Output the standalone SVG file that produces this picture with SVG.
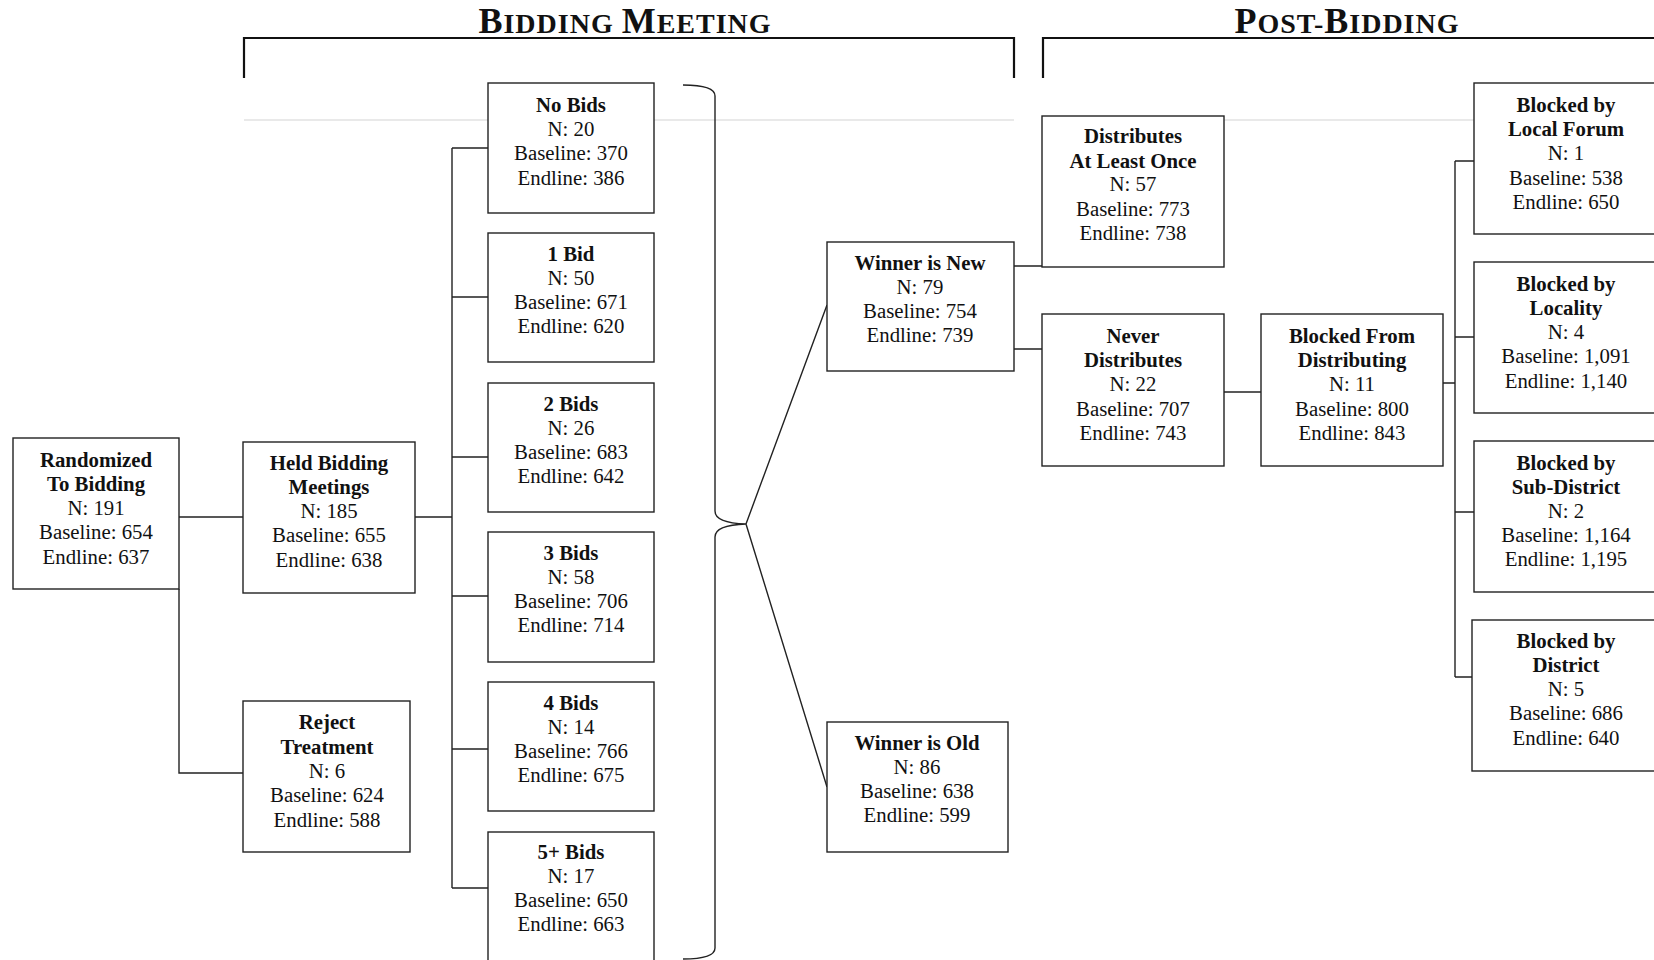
<svg xmlns="http://www.w3.org/2000/svg" width="1654" height="960" viewBox="0 0 1654 960">
<style>
.bg{fill:#fff}
.box{fill:#fff;stroke:#222;stroke-width:1.4}
.ln{fill:none;stroke:#222;stroke-width:1.4}
.br{fill:none;stroke:#111;stroke-width:2.2}
.gr{fill:none;stroke:#d4d4d4;stroke-width:1.2}
text{font-family:"Liberation Serif","Times New Roman",serif;fill:#111}
.t{font-size:20.8px;text-anchor:middle}
.b{font-weight:bold}
.h{font-weight:bold;text-anchor:middle;letter-spacing:1px}
.cap{font-size:36px}
.sc{font-size:28px}
</style>
<rect class="bg" x="0" y="0" width="1654" height="960"/>
<g id="headers">
<path class="br" d="M244,78 V38 H1014 V78"/>
<path class="br" d="M1043,78 V38 H1660"/>
<text class="h" x="625" y="33"><tspan class="cap">B</tspan><tspan class="sc">IDDING </tspan><tspan class="cap">M</tspan><tspan class="sc">EETING</tspan></text>
<text class="h" x="1347" y="33"><tspan class="cap">P</tspan><tspan class="sc">OST-</tspan><tspan class="cap">B</tspan><tspan class="sc">IDDING</tspan></text>
<path class="gr" d="M244,120 H1014 M1042,120 H1474"/>
</g>
<g id="connectors">
<path class="ln" d="M179,517 H243 M179,589 V773 H243"/>
<path class="ln" d="M415,517 H452 M452,148 V888 M452,148 H488 M452,297 H488 M452,457 H488 M452,596 H488 M452,749 H488 M452,888 H488"/>
<path class="ln" d="M683,85 Q715,85 715,96 L715,511 Q715,523 746,524 Q715,525 715,537 L715,948 Q715,959 683,959"/>
<path class="ln" d="M746,524 L827,305 M746,524 L827,787"/>
<path class="ln" d="M1014,266 H1042 M1014,349 H1042"/>
<path class="ln" d="M1224,392 H1261"/>
<path class="ln" d="M1443,383 H1455 M1455,161 V677 M1455,161 H1474 M1455,337 H1474 M1455,512 H1474 M1455,677 H1474"/>
</g>
<g id="randomized">
<rect class="box" x="13" y="438" width="166" height="151"/>
<text class="t b" x="96" y="467">Randomized</text>
<text class="t b" x="96" y="491">To Bidding</text>
<text class="t" x="96" y="515">N: 191</text>
<text class="t" x="96" y="539">Baseline: 654</text>
<text class="t" x="96" y="564">Endline: 637</text>
</g>
<g id="held">
<rect class="box" x="243" y="442" width="172" height="151"/>
<text class="t b" x="329" y="470">Held Bidding</text>
<text class="t b" x="329" y="494">Meetings</text>
<text class="t" x="329" y="518">N: 185</text>
<text class="t" x="329" y="542">Baseline: 655</text>
<text class="t" x="329" y="567">Endline: 638</text>
</g>
<g id="reject">
<rect class="box" x="243" y="701" width="167" height="151"/>
<text class="t b" x="327" y="729">Reject</text>
<text class="t b" x="327" y="754">Treatment</text>
<text class="t" x="327" y="778">N: 6</text>
<text class="t" x="327" y="802">Baseline: 624</text>
<text class="t" x="327" y="827">Endline: 588</text>
</g>
<g id="nobids">
<rect class="box" x="488" y="83" width="166" height="130"/>
<text class="t b" x="571" y="112">No Bids</text>
<text class="t" x="571" y="136">N: 20</text>
<text class="t" x="571" y="160">Baseline: 370</text>
<text class="t" x="571" y="185">Endline: 386</text>
</g>
<g id="bid1">
<rect class="box" x="488" y="233" width="166" height="129"/>
<text class="t b" x="571" y="261">1 Bid</text>
<text class="t" x="571" y="285">N: 50</text>
<text class="t" x="571" y="309">Baseline: 671</text>
<text class="t" x="571" y="333">Endline: 620</text>
</g>
<g id="bid2">
<rect class="box" x="488" y="383" width="166" height="129"/>
<text class="t b" x="571" y="411">2 Bids</text>
<text class="t" x="571" y="435">N: 26</text>
<text class="t" x="571" y="459">Baseline: 683</text>
<text class="t" x="571" y="483">Endline: 642</text>
</g>
<g id="bid3">
<rect class="box" x="488" y="532" width="166" height="130"/>
<text class="t b" x="571" y="560">3 Bids</text>
<text class="t" x="571" y="584">N: 58</text>
<text class="t" x="571" y="608">Baseline: 706</text>
<text class="t" x="571" y="632">Endline: 714</text>
</g>
<g id="bid4">
<rect class="box" x="488" y="682" width="166" height="129"/>
<text class="t b" x="571" y="710">4 Bids</text>
<text class="t" x="571" y="734">N: 14</text>
<text class="t" x="571" y="758">Baseline: 766</text>
<text class="t" x="571" y="782">Endline: 675</text>
</g>
<g id="bid5">
<rect class="box" x="488" y="832" width="166" height="140"/>
<text class="t b" x="571" y="859">5+ Bids</text>
<text class="t" x="571" y="883">N: 17</text>
<text class="t" x="571" y="907">Baseline: 650</text>
<text class="t" x="571" y="931">Endline: 663</text>
</g>
<g id="winnernew">
<rect class="box" x="827" y="242" width="187" height="129"/>
<text class="t b" x="920" y="270">Winner is New</text>
<text class="t" x="920" y="294">N: 79</text>
<text class="t" x="920" y="318">Baseline: 754</text>
<text class="t" x="920" y="342">Endline: 739</text>
</g>
<g id="winnerold">
<rect class="box" x="827" y="722" width="181" height="130"/>
<text class="t b" x="917" y="750">Winner is Old</text>
<text class="t" x="917" y="774">N: 86</text>
<text class="t" x="917" y="798">Baseline: 638</text>
<text class="t" x="917" y="822">Endline: 599</text>
</g>
<g id="distributes">
<rect class="box" x="1042" y="116" width="182" height="151"/>
<text class="t b" x="1133" y="143">Distributes</text>
<text class="t b" x="1133" y="168">At Least Once</text>
<text class="t" x="1133" y="191">N: 57</text>
<text class="t" x="1133" y="216">Baseline: 773</text>
<text class="t" x="1133" y="240">Endline: 738</text>
</g>
<g id="never">
<rect class="box" x="1042" y="314" width="182" height="152"/>
<text class="t b" x="1133" y="343">Never</text>
<text class="t b" x="1133" y="367">Distributes</text>
<text class="t" x="1133" y="391">N: 22</text>
<text class="t" x="1133" y="416">Baseline: 707</text>
<text class="t" x="1133" y="440">Endline: 743</text>
</g>
<g id="blockedfrom">
<rect class="box" x="1261" y="314" width="182" height="152"/>
<text class="t b" x="1352" y="343">Blocked From</text>
<text class="t b" x="1352" y="367">Distributing</text>
<text class="t" x="1352" y="391">N: 11</text>
<text class="t" x="1352" y="416">Baseline: 800</text>
<text class="t" x="1352" y="440">Endline: 843</text>
</g>
<g id="localforum">
<rect class="box" x="1474" y="83" width="190" height="151"/>
<text class="t b" x="1566" y="112">Blocked by</text>
<text class="t b" x="1566" y="136">Local Forum</text>
<text class="t" x="1566" y="160">N: 1</text>
<text class="t" x="1566" y="185">Baseline: 538</text>
<text class="t" x="1566" y="209">Endline: 650</text>
</g>
<g id="locality">
<rect class="box" x="1474" y="262" width="190" height="151"/>
<text class="t b" x="1566" y="291">Blocked by</text>
<text class="t b" x="1566" y="315">Locality</text>
<text class="t" x="1566" y="339">N: 4</text>
<text class="t" x="1566" y="363">Baseline: 1,091</text>
<text class="t" x="1566" y="388">Endline: 1,140</text>
</g>
<g id="subdistrict">
<rect class="box" x="1474" y="441" width="190" height="151"/>
<text class="t b" x="1566" y="470">Blocked by</text>
<text class="t b" x="1566" y="494">Sub-District</text>
<text class="t" x="1566" y="518">N: 2</text>
<text class="t" x="1566" y="542">Baseline: 1,164</text>
<text class="t" x="1566" y="566">Endline: 1,195</text>
</g>
<g id="district">
<rect class="box" x="1472" y="620" width="192" height="151"/>
<text class="t b" x="1566" y="648">Blocked by</text>
<text class="t b" x="1566" y="672">District</text>
<text class="t" x="1566" y="696">N: 5</text>
<text class="t" x="1566" y="720">Baseline: 686</text>
<text class="t" x="1566" y="745">Endline: 640</text>
</g>
</svg>
